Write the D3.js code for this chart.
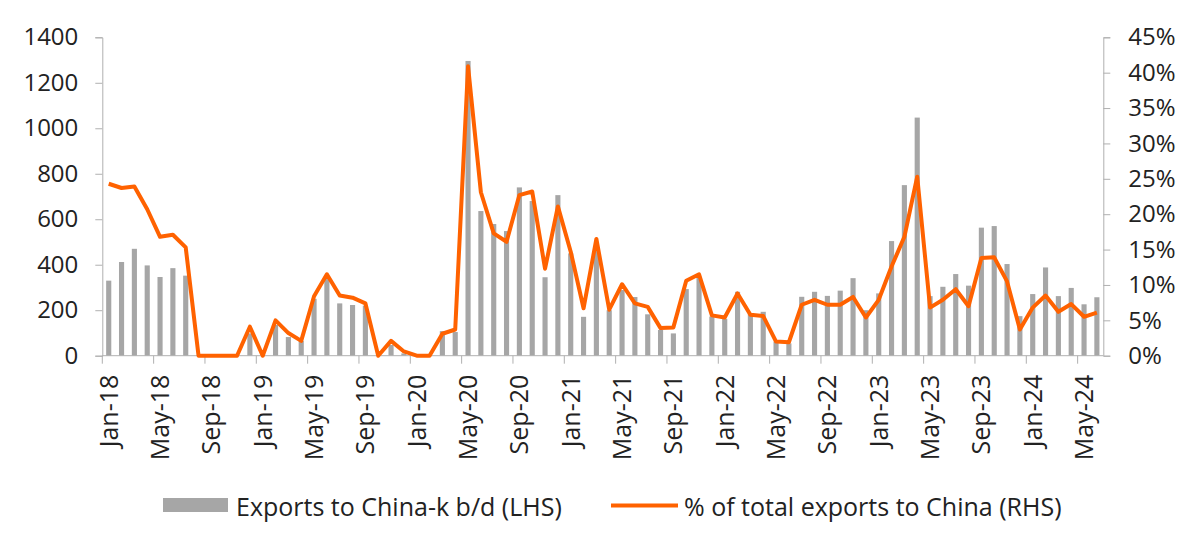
<!DOCTYPE html>
<html>
<head>
<meta charset="utf-8">
<script src="https://cdn.jsdelivr.net/npm/d3@7"></script>
<style>
  body { margin: 0; background: #fff; }
  text { font-family: "Open Sans", sans-serif; fill: #222; }
</style>
</head>
<body>
<div id="chart"></div>
<script>
// monthly exports to China, k b/d (LHS), Jan-18 .. Jun-24
const exportsKbd = [
  330, 412, 470, 397, 346, 385, 352, 0, 0, 0, 0, 98,
  0, 135, 82, 65, 250, 337, 230, 223, 220, 0, 47, 10,
  0, 0, 108, 104, 1296, 636, 579, 548, 740, 680, 345, 706,
  450, 171, 464, 200, 289, 258, 182, 113, 98, 293, 347, 172,
  162, 281, 186, 193, 62, 54, 259, 281, 263, 286, 341, 200,
  274, 504, 750, 1047, 262, 303, 359, 308, 563, 570, 403, 174,
  271, 388, 262, 298, 226, 257
];

// share of total exports going to China, % (RHS)
const shareChina = [
  24.3, 23.7, 23.9, 20.7, 16.8, 17.1, 15.3, 0, 0, 0, 0, 4.1,
  0, 5.0, 3.2, 2.1, 8.4, 11.5, 8.5, 8.2, 7.4, 0, 2.1, 0.6,
  0, 0, 3.1, 3.7, 40.9, 23.1, 17.3, 16.1, 22.7, 23.2, 12.3, 21.1,
  14.7, 6.7, 16.5, 6.5, 10.1, 7.4, 6.9, 3.9, 4.0, 10.6, 11.5, 5.7,
  5.4, 8.8, 5.8, 5.6, 2.0, 1.9, 7.2, 7.9, 7.2, 7.2, 8.3, 5.4,
  7.9, 12.6, 16.8, 25.3, 6.8, 7.9, 9.4, 7.0, 13.8, 13.9, 10.5, 3.7,
  6.8, 8.5, 6.2, 7.3, 5.5, 6.1
];

const leftTicks = [0, 200, 400, 600, 800, 1000, 1200, 1400];
const rightTicks = [0, 5, 10, 15, 20, 25, 30, 35, 40, 45];
const xTickLabels = ["Jan-18", "May-18", "Sep-18", "Jan-19", "May-19", "Sep-19", "Jan-20",
  "May-20", "Sep-20", "Jan-21", "May-21", "Sep-21", "Jan-22", "May-22", "Sep-22",
  "Jan-23", "May-23", "Sep-23", "Jan-24", "May-24"];

const seriesNames = ["Exports to China-k b/d (LHS)", "% of total exports to China (RHS)"];

// month labels for every bar
const fmt = d3.timeFormat("%b-%y");
const months = d3.timeMonth.range(new Date(2018, 0, 1), new Date(2018, exportsKbd.length, 1)).map(fmt);

const width = 1200, height = 553;
const m = {left: 102.3, right: 1103.3, top: 37.3, bottom: 355.7};
const axisColor = "#b0b0b0";
const barColor = "#a6a6a6";
const lineColor = "#ff6200";

const svg = d3.select("#chart").append("svg")
  .attr("width", width)
  .attr("height", height);

const x = d3.scaleBand()
  .domain(months)
  .range([m.left, m.right])
  .paddingInner(0.6)
  .paddingOuter(0.3);

const yL = d3.scaleLinear().domain([0, 1400]).range([m.bottom, m.top]);
const yR = d3.scaleLinear().domain([0, 45]).range([m.bottom, m.top]);

// bars
svg.append("g")
  .selectAll("rect")
  .data(exportsKbd)
  .join("rect")
  .attr("x", (d, i) => x(months[i]))
  .attr("y", d => yL(d))
  .attr("width", x.bandwidth())
  .attr("height", d => m.bottom - yL(d))
  .attr("fill", barColor);

// left axis
const axL = svg.append("g")
  .attr("transform", `translate(${m.left},0)`)
  .call(d3.axisLeft(yL).tickValues(leftTicks).tickSize(7).tickPadding(17).tickFormat(d3.format("d")));

// right axis
const axR = svg.append("g")
  .attr("transform", `translate(${m.right},0)`)
  .call(d3.axisRight(yR).tickValues(rightTicks).tickSize(7).tickPadding(18).tickFormat(d => d + "%"));

[axL, axR].forEach(a => {
  a.select(".domain").attr("stroke", axisColor);
  a.selectAll(".tick line").attr("stroke", axisColor);
  a.selectAll("text")
    .style("fill", "#222")
    .style("font-family", "'Open Sans', sans-serif")
    .style("font-size", "24px");
});

// bottom axis: tick marks on month boundaries every 4 months
const step = x.step();
const boundaries = d3.range(0, months.length + 1, 4);
const axB = svg.append("g");
axB.append("line")
  .attr("x1", m.left).attr("x2", m.right)
  .attr("y1", m.bottom).attr("y2", m.bottom)
  .attr("stroke", axisColor);
axB.selectAll(".xtick")
  .data(boundaries)
  .join("line")
  .attr("class", "xtick")
  .attr("x1", d => m.left + d * step)
  .attr("x2", d => m.left + d * step)
  .attr("y1", m.bottom)
  .attr("y2", m.bottom + 8)
  .attr("stroke", axisColor);
axB.selectAll(".xlabel")
  .data(xTickLabels)
  .join("text")
  .attr("class", "xlabel")
  .attr("transform", d => `translate(${x(d) + x.bandwidth() / 2 + 9},${m.bottom + 19}) rotate(-90)`)
  .attr("text-anchor", "end")
  .style("font-size", "25px")
  .text(d => d);

// line
const line = d3.line()
  .x((d, i) => x(months[i]) + x.bandwidth() / 2)
  .y(d => yR(d));

svg.append("path")
  .datum(shareChina)
  .attr("d", line)
  .attr("fill", "none")
  .attr("stroke", lineColor)
  .attr("stroke-width", 4)
  .attr("stroke-linejoin", "round");

// legend
const lg = svg.append("g");
lg.append("rect")
  .attr("x", 163).attr("y", 498).attr("width", 65).attr("height", 14)
  .attr("fill", barColor);
lg.append("text")
  .attr("x", 236).attr("y", 516)
  .style("font-size", "25px")
  .text(seriesNames[0]);
lg.append("line")
  .attr("x1", 611).attr("x2", 678).attr("y1", 505.5).attr("y2", 505.5)
  .attr("stroke", lineColor).attr("stroke-width", 4);
lg.append("text")
  .attr("x", 684).attr("y", 516)
  .style("font-size", "25px")
  .text(seriesNames[1]);
</script>
</body>
</html>
